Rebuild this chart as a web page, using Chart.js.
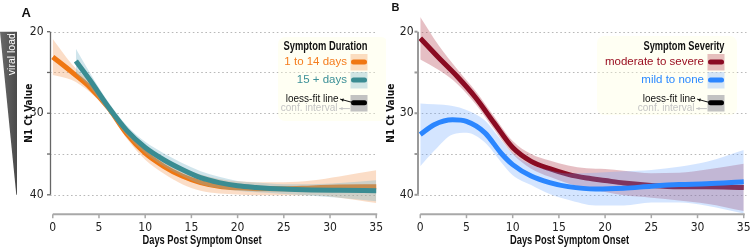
<!DOCTYPE html>
<html><head><meta charset="utf-8">
<script src="https://cdn.jsdelivr.net/npm/chart.js@4.4.0/dist/chart.umd.min.js"></script>
<style>
html,body{margin:0;padding:0;background:#fff;width:750px;height:247px;overflow:hidden;position:relative;}
#cA{position:absolute;left:0;top:0;}
#cB{position:absolute;left:375px;top:0;}
</style></head><body>
<canvas id="cA" width="386" height="247"></canvas>
<canvas id="cB" width="378" height="247"></canvas>
<script>
// ---------- data ----------
const xTicks = [0, 5, 10, 15, 20, 25, 30, 35];
const yTicks = [20, 25, 30, 35, 40];
const yTickLabels = ['20', '', '30', '', '40'];

// Panel A: Symptom Duration
const shortDays = [0, 2, 4, 6, 8, 10, 12, 14, 16, 18, 20, 22, 25, 28, 31, 35];
const shortCt   = [23.1, 24.9, 26.8, 29.3, 32.5, 34.9, 36.5, 37.7, 38.5, 38.95, 39.15, 39.25, 39.25, 39.15, 39.05, 39.0];
const shortLo   = [20.9, 23.9, 26.2, 28.8, 31.9, 34.1, 35.6, 36.7, 37.5, 38.05, 38.35, 38.45, 38.45, 38.25, 37.75, 37.0];
const shortHi   = [25.3, 25.9, 27.4, 29.8, 33.1, 35.7, 37.4, 38.7, 39.5, 39.85, 39.95, 40.05, 40.05, 40.05, 40.35, 41.0];

const longDays = [2.5, 4, 6, 8, 10, 12, 14, 16, 18, 20, 22, 25, 28, 31, 35];
const longCt   = [23.6, 25.9, 29.2, 32.1, 34.2, 35.7, 36.9, 37.9, 38.5, 38.9, 39.1, 39.3, 39.4, 39.45, 39.5];
const longLo   = [22.1, 25.0, 28.6, 31.5, 33.5, 34.9, 36.1, 37.1, 37.8, 38.3, 38.5, 38.7, 38.7, 38.55, 38.2];
const longHi   = [25.1, 26.8, 29.8, 32.7, 34.9, 36.5, 37.7, 38.7, 39.2, 39.5, 39.7, 39.9, 40.1, 40.35, 40.8];

// Panel B: Symptom Severity
const severeDays = [0, 2, 4, 6, 8, 10, 12, 14, 16, 18, 20, 22, 25, 28, 31, 35];
const severeCt   = [20.8, 23.2, 25.5, 28.1, 31.2, 34.2, 35.9, 36.8, 37.5, 37.95, 38.25, 38.55, 38.85, 39.0, 39.0, 39.1];
const severeLo   = [18.2, 21.7, 24.6, 27.3, 30.4, 33.4, 35.0, 35.8, 36.4, 36.75, 36.85, 37.05, 37.35, 37.3, 36.9, 36.2];
const severeHi   = [23.4, 24.7, 26.4, 28.9, 32.0, 35.0, 36.8, 37.8, 38.6, 39.15, 39.65, 40.05, 40.35, 40.7, 41.1, 42.0];

const mildDays = [0, 1.5, 3.5, 5, 7, 8.75, 10, 12, 14, 16, 19, 22, 25, 28, 31, 35];
const mildCt   = [32.6, 31.4, 30.8, 31.0, 32.4, 34.9, 36.3, 37.7, 38.5, 39.0, 39.3, 39.2, 38.95, 38.75, 38.65, 38.4];
const mildLo   = [28.8, 28.9, 29.1, 29.6, 30.9, 33.3, 34.9, 36.3, 37.0, 37.4, 37.3, 37.1, 36.95, 36.55, 35.95, 34.5];
const mildHi   = [36.5, 34.6, 32.6, 32.4, 33.6, 36.0, 37.6, 38.8, 39.9, 40.6, 41.3, 41.3, 40.95, 40.95, 41.35, 42.3];

// ---------- styling ----------
const NARROW = "'Liberation Sans Narrow','Arial Narrow','DejaVu Sans Condensed',sans-serif";
const SANS = "'Liberation Sans',Arial,Helvetica,sans-serif";

const pts = (xs, ys) => xs.map((d, i) => ({x: d, y: ys[i]}));

function band(xs, lo, hi, color, order) {
  return [
    {data: pts(xs, lo), borderWidth: 0, pointRadius: 0, fill: false, cubicInterpolationMode: 'monotone', order: order + 1, backgroundColor: color, borderColor: 'rgba(0,0,0,0)'},
    {data: pts(xs, hi), borderWidth: 0, pointRadius: 0, fill: '-1', cubicInterpolationMode: 'monotone', order: order, backgroundColor: color, borderColor: 'rgba(0,0,0,0)'}
  ];
}
function line(xs, ys, color, order) {
  return {data: pts(xs, ys), borderColor: color, borderWidth: 5, pointRadius: 0, fill: false,
          cubicInterpolationMode: 'monotone', order: order, borderCapStyle: 'butt', borderJoinStyle: 'round'};
}

// draw text squeezed horizontally to a given width (condensed look)
function fitText(ctx, text, x, y, align, w) {
  const m = ctx.measureText(text).width;
  const s = Math.min(1, w / m);
  ctx.save();
  ctx.translate(x, y); ctx.scale(s, 1);
  ctx.textAlign = align;
  ctx.fillText(text, 0, 0);
  ctx.restore();
}

function drawArrow(ctx, x1, y1, x2, y2, color) {
  ctx.save();
  ctx.strokeStyle = color; ctx.fillStyle = color; ctx.lineWidth = 1;
  ctx.beginPath(); ctx.moveTo(x1, y1); ctx.lineTo(x2, y2); ctx.stroke();
  const ang = Math.atan2(y1 - y2, x1 - x2);
  ctx.beginPath();
  ctx.moveTo(x1, y1);
  ctx.lineTo(x1 - 3.5 * Math.cos(ang - 0.5), y1 - 3.5 * Math.sin(ang - 0.5));
  ctx.lineTo(x1 - 3.5 * Math.cos(ang + 0.5), y1 - 3.5 * Math.sin(ang + 0.5));
  ctx.closePath(); ctx.fill();
  ctx.restore();
}

function drawLegend(ctx, L) {
  ctx.save();
  ctx.fillStyle = 'rgba(255,255,220,0.35)';
  ctx.beginPath();
  ctx.roundRect(L.box[0], L.box[1], L.box[2], L.box[3], 7);
  ctx.fill();
  ctx.textBaseline = 'middle';
  ctx.fillStyle = '#111';
  ctx.font = 'bold 12.5px ' + SANS;
  fitText(ctx, L.title, L.swX + 17, 47, 'right', L.titleW);
  ctx.textAlign = 'right';
  L.entries.forEach(e => {
    ctx.font = '11.5px ' + SANS;
    ctx.fillStyle = e.text;
    ctx.fillText(e.label, L.swX - 3.5, e.y);
    ctx.fillStyle = e.band;
    ctx.fillRect(L.swX, e.y - 8, 17, 16.5);
    ctx.strokeStyle = e.line; ctx.lineWidth = 5; ctx.lineCap = 'round';
    ctx.beginPath(); ctx.moveTo(L.swX + 3, e.y); ctx.lineTo(L.swX + 14, e.y); ctx.stroke();
  });
  ctx.fillStyle = '#c2c2c2';
  ctx.fillRect(L.swX, 95, 17, 16.5);
  ctx.strokeStyle = '#000'; ctx.lineWidth = 5; ctx.lineCap = 'round';
  ctx.beginPath(); ctx.moveTo(L.swX + 3, 102.7); ctx.lineTo(L.swX + 14, 102.7); ctx.stroke();
  ctx.font = '10px ' + SANS;
  ctx.fillStyle = '#111';
  ctx.fillText('loess-fit line', L.swX - 12, 99.5);
  ctx.fillStyle = '#c4c4c4';
  ctx.fillText('conf. interval', L.swX - 13, 108.6);
  drawArrow(ctx, L.swX - 10, 99.2, L.swX + 2, 102.5, '#111');
  drawArrow(ctx, L.swX - 11, 108.6, L.swX - 1, 108.6, '#c4c4c4');
  ctx.restore();
}

function panelPlugin(P) {
  return {
    id: 'panel' + P.letter,
    beforeDatasetsDraw(chart) {
      const {ctx, chartArea: a, scales: {x, y}} = chart;
      ctx.save();
      ctx.strokeStyle = '#b8b8b8'; ctx.lineWidth = 1; ctx.setLineDash([1.6, 2.6]);
      yTicks.forEach(v => {
        const py = Math.round(y.getPixelForValue(v)) + 0.5;
        ctx.beginPath(); ctx.moveTo(a.left, py); ctx.lineTo(Math.min(a.right, P.gridRight), py); ctx.stroke();
      });
      ctx.restore();
      if (P.wedge) {
        const t = y.getPixelForValue(20), b = y.getPixelForValue(40);
        ctx.save();
        const g = ctx.createLinearGradient(0, 0, 17, 0);
        g.addColorStop(0, '#6a6a6a'); g.addColorStop(1, '#4a4a4a');
        ctx.fillStyle = g;
        ctx.beginPath(); ctx.moveTo(0, t); ctx.lineTo(17, t); ctx.lineTo(17, b); ctx.lineTo(16.3, b); ctx.closePath(); ctx.fill();
        ctx.translate(12, t + 22.5); ctx.rotate(-Math.PI / 2);
        ctx.fillStyle = '#fff'; ctx.font = '10.5px ' + SANS; ctx.textAlign = 'center'; ctx.textBaseline = 'middle';
        ctx.fillText('viral load', 0, 0);
        ctx.restore();
      }
    },
    afterDraw(chart) {
      const {ctx, chartArea: a, scales: {x, y}} = chart;
      ctx.save();
      const t = y.getPixelForValue(20), b = y.getPixelForValue(40);
      ctx.strokeStyle = P.yAxisColor; ctx.lineWidth = P.yAxisWidth;
      ctx.beginPath(); ctx.moveTo(a.left + 0.5, t); ctx.lineTo(a.left + 0.5, b); ctx.stroke();
      yTicks.forEach(v => {
        const py = y.getPixelForValue(v);
        ctx.beginPath(); ctx.moveTo(a.left - 3, py); ctx.lineTo(a.left, py); ctx.stroke();
      });
      const xl = x.getPixelForValue(0), xr = x.getPixelForValue(35);
      const ay = a.bottom - 1;
      ctx.strokeStyle = '#a8a8a8'; ctx.lineWidth = 2;
      ctx.beginPath(); ctx.moveTo(xl, ay); ctx.lineTo(xr + 1, ay); ctx.stroke();
      ctx.lineWidth = 1.5;
      xTicks.forEach(v => {
        const px = x.getPixelForValue(v);
        ctx.beginPath(); ctx.moveTo(px, ay); ctx.lineTo(px, ay + 4); ctx.stroke();
      });
      ctx.fillStyle = '#111'; ctx.font = 'bold 12px ' + SANS;
      ctx.textBaseline = 'middle';
      fitText(ctx, 'Days Post Symptom Onset', (a.left + a.right) / 2 - 12.5, 240.5, 'center', 119);
      ctx.font = 'bold ' + P.letterSize + 'px ' + SANS;
      ctx.textAlign = 'left'; ctx.textBaseline = 'alphabetic';
      ctx.fillText(P.letter, P.letterX, P.letterY);
      ctx.restore();
      drawLegend(ctx, P.legend);
    }
  };
}

function makeChart(id, datasets, P) {
  return new Chart(document.getElementById(id), {
    type: 'line',
    data: {datasets},
    options: {
      responsive: false, animation: false, events: [],
      layout: {padding: {top: 11.3, bottom: 0, left: 0, right: P.padRight}},
      plugins: {legend: {display: false}, tooltip: {enabled: false}},
      scales: {
        x: {
          type: 'linear', min: -0.3, max: 35.3,
          afterBuildTicks: s => { s.ticks = xTicks.map(v => ({value: v})); },
          afterFit: s => { s.height = 31.8; s.paddingLeft = 0; s.paddingRight = 0; },
          grid: {display: false, drawTicks: false}, border: {display: false},
          ticks: {padding: 5, color: '#222', font: {family: NARROW, size: 12}, maxRotation: 0, autoSkip: false}
        },
        y: {
          type: 'linear', reverse: true, min: 17.5, max: 42.5,
          afterBuildTicks: s => { s.ticks = yTicks.map(v => ({value: v})); },
          afterFit: s => { s.width = P.yWidth; s.paddingTop = 0; s.paddingBottom = 0; },
          grid: {display: false, drawTicks: false}, border: {display: false},
          ticks: {padding: P.yPad, color: '#222', font: {family: NARROW, size: 12}, autoSkip: false,
                  callback: (v, i) => yTickLabels[i]},
          title: {display: true, text: 'N1 Ct Value', color: '#111',
                  font: {family: NARROW, size: 10, weight: 'bold'}, padding: {top: P.titlePad, bottom: 0}}
        }
      }
    },
    plugins: [panelPlugin(P)]
  });
}

const orangeLine = '#f07712', orangeBand = 'rgba(244,150,80,0.32)', orangeText = '#f57d1e';
const tealLine = '#3a8c92', tealBand = 'rgba(120,180,200,0.35)', tealText = '#3c9097';
const redLine = '#8a0b22', redBand = 'rgba(180,60,75,0.33)', redText = '#9a1022';
const blueLine = '#2b86ff', blueBand = 'rgba(100,160,255,0.28)', blueText = '#2b89ff';

makeChart('cA', [
  ...band(shortDays, shortLo, shortHi, orangeBand, 5),
  line(shortDays, shortCt, orangeLine, 4),
  ...band(longDays, longLo, longHi, tealBand, 2),
  line(longDays, longCt, tealLine, 1)
], {
  letter: 'A', letterX: 21.5, letterY: 16.5, letterSize: 13,
  yWidth: 50, yPad: 6.5, titlePad: 23, padRight: 7, gridRight: 375,
  yAxisColor: '#666', yAxisWidth: 1.3, wedge: true,
  legend: {box: [278, 37, 110, 84], swX: 350.5, title: 'Symptom Duration', titleW: 84,
    entries: [
      {label: '1 to 14 days', text: orangeText, band: orangeBand, line: orangeLine, y: 62},
      {label: '15 + days', text: tealText, band: tealBand, line: tealLine, y: 80}
    ]}
});

makeChart('cB', [
  ...band(severeDays, severeLo, severeHi, redBand, 5),
  line(severeDays, severeCt, redLine, 4),
  ...band(mildDays, mildLo, mildHi, blueBand, 2),
  line(mildDays, mildCt, blueLine, 1)
], {
  letter: 'B', letterX: 16.5, letterY: 11, letterSize: 11,
  yWidth: 42.5, yPad: 4, titlePad: 10, padRight: 6.5, gridRight: 400,
  yAxisColor: '#9a9a9a', yAxisWidth: 2, wedge: false,
  legend: {box: [222, 36, 140, 79], swX: 332.5, title: 'Symptom Severity', titleW: 81,
    entries: [
      {label: 'moderate to severe', text: redText, band: redBand, line: redLine, y: 62},
      {label: 'mild to none', text: blueText, band: blueBand, line: blueLine, y: 80}
    ]}
});
</script>
</body></html>
